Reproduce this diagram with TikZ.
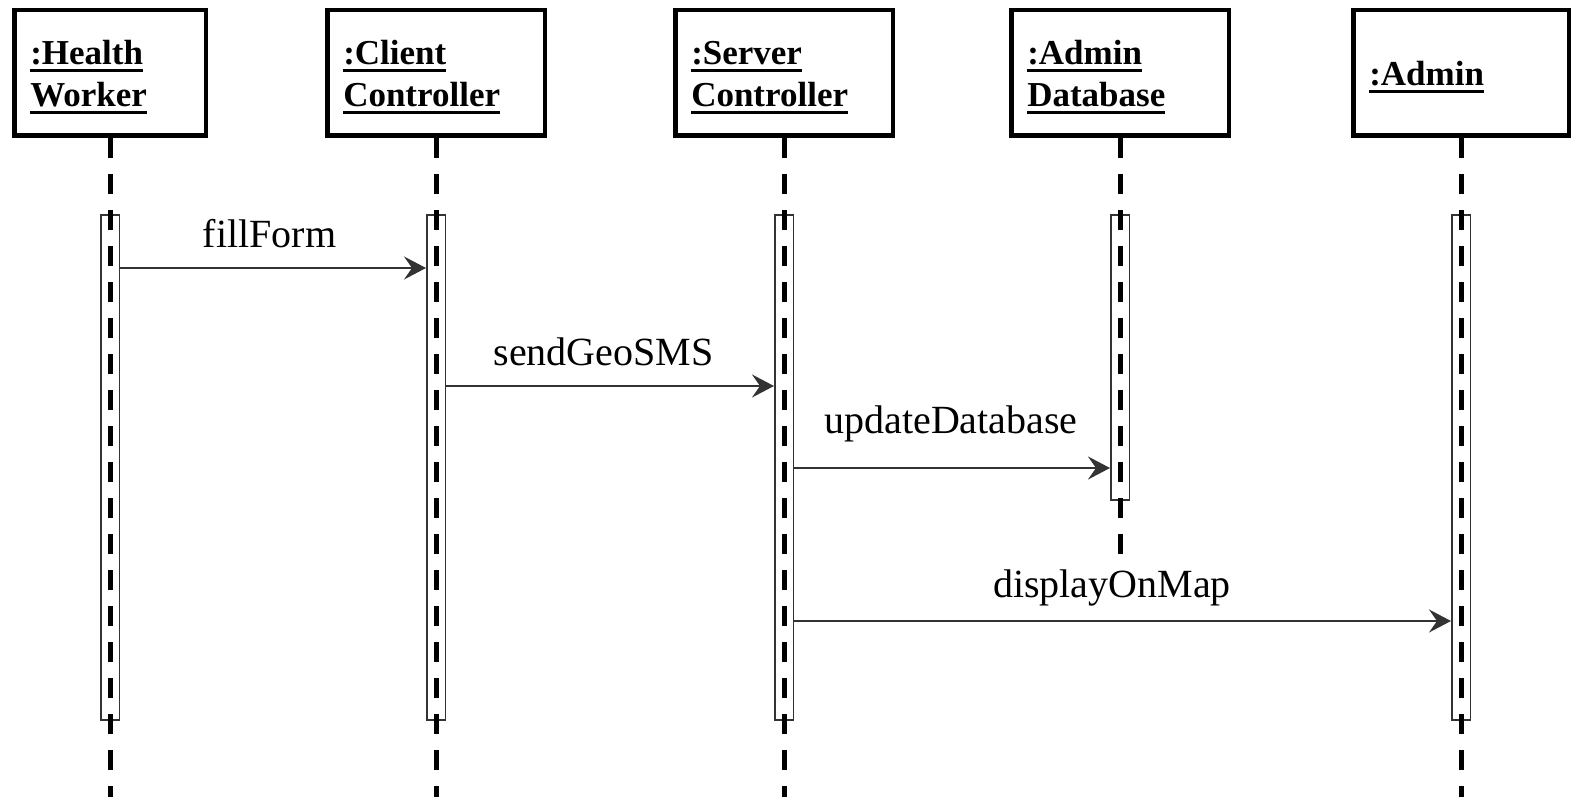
\documentclass[tikz,border=0pt]{standalone}
\usepackage{fontspec}
\setmainfont{Liberation Serif}
\usepackage{tikz}
\usetikzlibrary{positioning,arrows.meta}

% underlined object name with a heavy rule
\newsavebox{\objnamebox}
\newcommand{\objname}[1]{\leavevmode\sbox{\objnamebox}{#1}\rlap{\rule[-7.5pt]{\wd\objnamebox}{3pt}}\usebox{\objnamebox}}

\begin{document}
\begin{tikzpicture}[
    x=1pt, y=-1pt,
    objbox/.style={rectangle, draw, line width=4.5pt, minimum height=125.5pt,
        inner xsep=16pt, align=left, font=\fontsize{35}{42}\selectfont\bfseries,
        execute at begin node=\rule{0pt}{33pt}},
    actbar/.style={rectangle, draw=black!80, line width=1.5pt, fill=white,
        minimum width=18.5pt, inner sep=0pt},
    lifeline/.style={line width=5pt, dash pattern=on 20pt off 16pt},
    msg/.style={draw=black!80, line width=2pt,
        -{Stealth[length=22pt,width=23pt,inset=8pt]}},
    msglabel/.style={font=\fontsize{40}{48}\selectfont, anchor=base, inner sep=0pt}
]
    \useasboundingbox (0,0) rectangle (1573,797);

    % objects
    \node[objbox, text width=159.5pt] (hw)  at (110,73)  {\objname{:Health}\\\objname{Worker}};
    \node[objbox, text width=185.5pt] (cc)  at (436,73)  {\objname{:Client}\\\objname{Controller}};
    \node[objbox, text width=185.5pt] (sc)  at (784,73)  {\objname{:Server}\\\objname{Controller}};
    \node[objbox, text width=185.5pt] (adb) at (1120,73) {\objname{:Admin}\\\objname{Database}};
    \node[objbox, text width=183.5pt] (adm) at (1461,73) {\objname{:Admin}};

    % activation bars
    \node[actbar, minimum height=505pt, below=76pt of hw]  (hwbar)  {};
    \node[actbar, minimum height=505pt, below=76pt of cc]  (ccbar)  {};
    \node[actbar, minimum height=505pt, below=76pt of sc]  (scbar)  {};
    \node[actbar, minimum height=285pt, below=76pt of adb] (adbbar) {};
    \node[actbar, minimum height=505pt, below=76pt of adm] (admbar) {};

    % lifelines (the database one stops early)
    \coordinate (bottom) at (0,797);
    \coordinate (dbend) at (0,554);
    \foreach \obj in {hw,cc,sc,adm}
        \draw[lifeline] (\obj.south) -- (\obj.south |- bottom);
    \draw[lifeline] (adb.south) -- (adb.south |- dbend);

    % messages
    \coordinate (m1) at (0,268);
    \coordinate (m2) at (0,386);
    \coordinate (m3) at (0,468);
    \coordinate (m4) at (0,621);
    \draw[msg] (hwbar.east |- m1) -- (ccbar.west |- m1);
    \draw[msg] (ccbar.east |- m2) -- (scbar.west |- m2);
    \draw[msg] (scbar.east |- m3) -- (adbbar.west |- m3);
    \draw[msg] (scbar.east |- m4) -- (admbar.west |- m4);

    \node[msglabel] (fill)   at (269.5,247) {fillForm};
    \node[msglabel] (send)   at (603.5,365) {sendGeoSMS};
    \node[msglabel] (update) at (951,433)   {updateDatabase};
    \node[msglabel] (show)   at (1112,597)  {displayOnMap};
\end{tikzpicture}
\end{document}
